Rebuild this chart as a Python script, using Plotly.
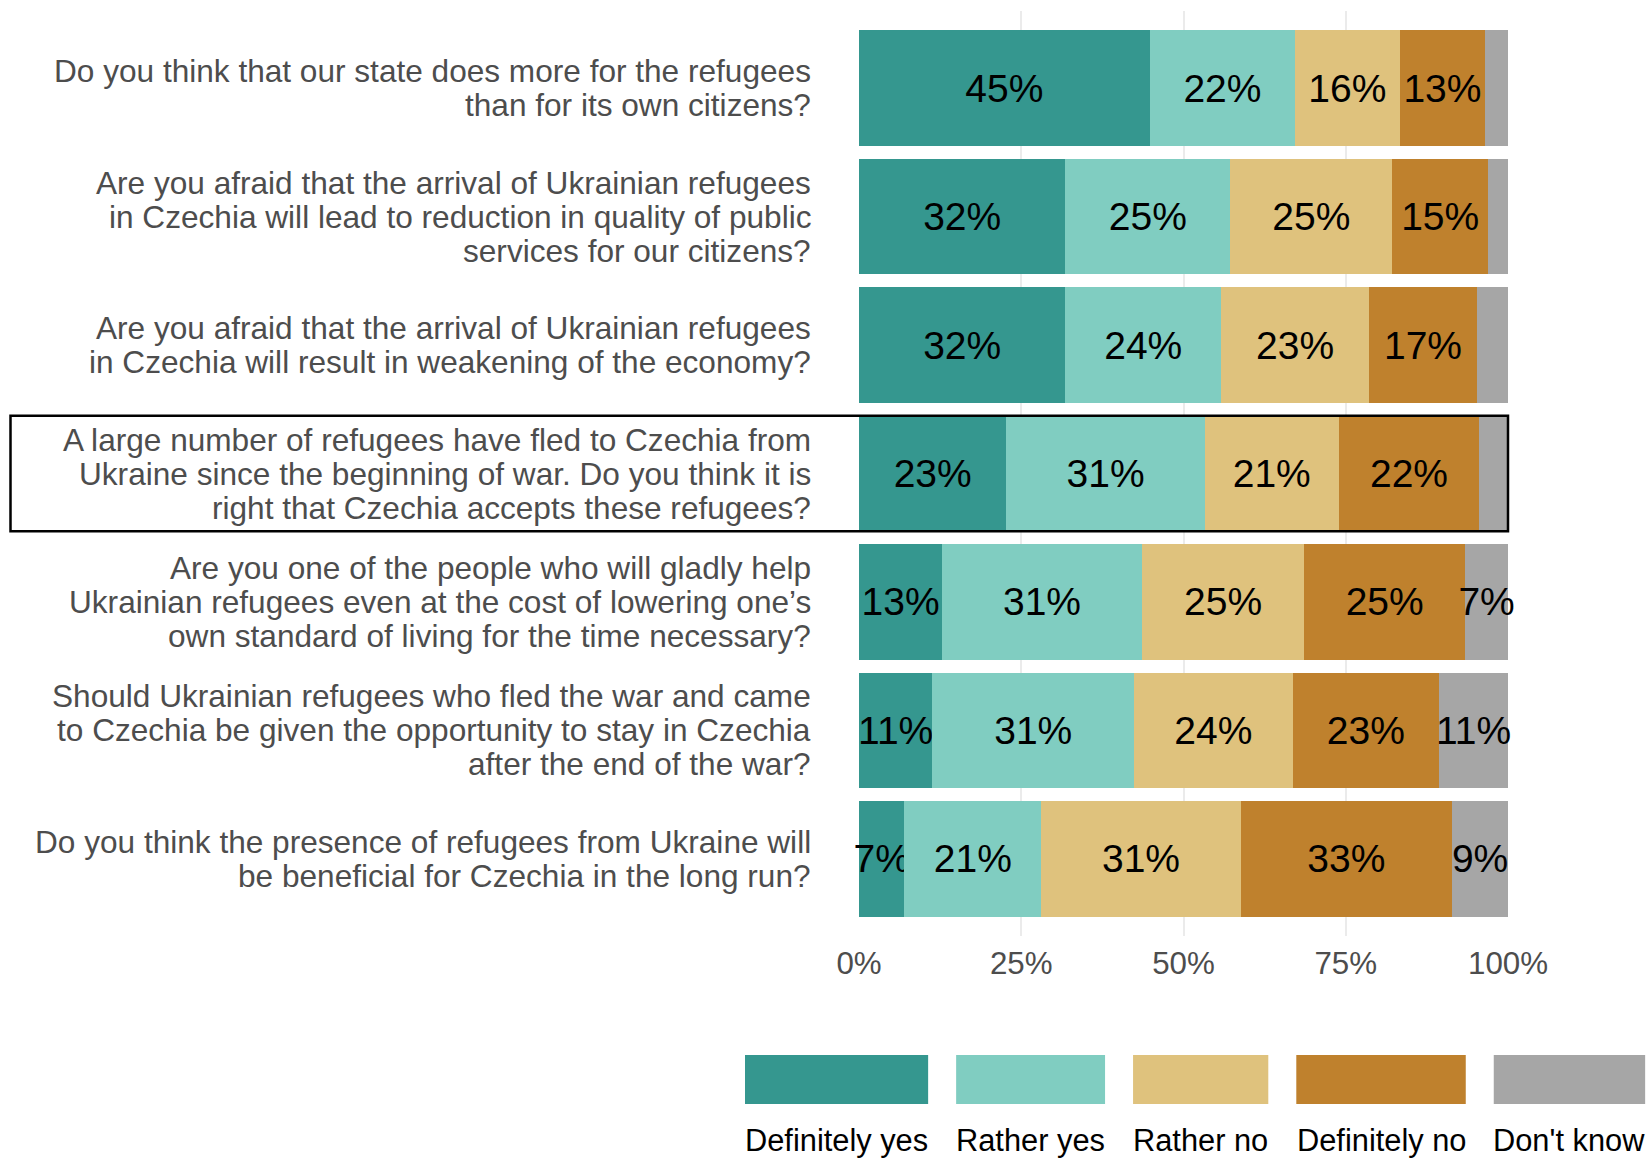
import plotly.graph_objects as go

# ---------------- data ----------------
question_lines = [
    ["Do you think that our state does more for the refugees", "than for its own citizens?"],
    ["Are you afraid that the arrival of Ukrainian refugees", "in Czechia will lead to reduction in quality of public", "services for our citizens?"],
    ["Are you afraid that the arrival of Ukrainian refugees", "in Czechia will result in weakening of the economy?"],
    ["A large number of refugees have fled to Czechia from", "Ukraine since the beginning of war. Do you think it is", "right that Czechia accepts these refugees?"],
    ["Are you one of the people who will gladly help", "Ukrainian refugees even at the cost of lowering one\u2019s", "own standard of living for the time necessary?"],
    ["Should Ukrainian refugees who fled the war and came", "to Czechia be given the opportunity to stay in Czechia", "after the end of the war?"],
    ["Do you think the presence of refugees from Ukraine will", "be beneficial for Czechia in the long run?"],
]
questions = [" ".join(l) for l in question_lines]

answers = ["Definitely yes", "Rather yes", "Rather no", "Definitely no", "Don't know"]
colors = ["#35978F", "#80CDC1", "#DFC27D", "#BF812D", "#A6A6A6"]

definitely_yes = [44.8, 31.8, 31.8, 22.7, 12.8, 11.3, 7.0]
rather_yes     = [22.4, 25.4, 24.0, 30.6, 30.8, 31.1, 21.1]
rather_no      = [16.1, 25.0, 22.8, 20.6, 25.0, 24.4, 30.7]
definitely_no  = [13.2, 14.7, 16.6, 21.7, 24.8, 22.6, 32.6]
dont_know      = [3.5, 3.1, 4.8, 4.4, 6.6, 10.6, 8.6]
series = [definitely_yes, rather_yes, rather_no, definitely_no, dont_know]

x_ticks = [0, 25, 50, 75, 100]
x_tick_labels = ["0%", "25%", "50%", "75%", "100%"]
highlight_index = 3

# ---------------- layout constants ----------------
W, H = 1652, 1158
plot_left, plot_right = 859, 1508
plot_top, plot_bottom = 10.5, 936
pw = plot_right - plot_left
ph = plot_bottom - plot_top
FONT = "Liberation Sans, Arial, sans-serif"
y_lo, y_hi = -0.6, len(questions) - 1 + 0.6


def px_x(p):
    return (p - plot_left) / pw


def px_y(p):
    return (plot_bottom - p) / ph


def cat_to_paper(i):
    return 1 - (i - y_lo) / (y_hi - y_lo)


fig = go.Figure()
for name, vals, col in zip(answers, series, colors):
    fig.add_trace(go.Bar(
        y=questions, x=vals, name=name, orientation="h",
        marker=dict(color=col, line=dict(width=0)),
        width=0.9,
        text=[f"{v:.0f}%" if v >= 5 else "" for v in vals],
        textposition="inside", insidetextanchor="middle",
        textangle=0, constraintext="none", cliponaxis=False,
        insidetextfont=dict(family=FONT, size=39, color="black"),
        hoverinfo="skip", showlegend=False,
    ))

annotations = []
line_gap = 34
for q, lines in zip(questions, question_lines):
    n = len(lines)
    for j, ln in enumerate(lines):
        annotations.append(dict(
            x=px_x(813), xref="paper", y=q, yref="y",
            xanchor="right", yanchor="middle",
            yshift=-(j - (n - 1) / 2) * line_gap,
            text=ln, showarrow=False,
            font=dict(family=FONT, size=31.6, color="#4D4D4D"),
        ))

shapes = [dict(
    type="rect", xref="paper", yref="paper",
    x0=px_x(10.5), x1=1,
    y0=cat_to_paper(highlight_index + 0.45), y1=cat_to_paper(highlight_index - 0.45),
    line=dict(color="black", width=2.5), fillcolor="rgba(0,0,0,0)", layer="above",
)]

# manual legend: keys as wide as their labels
char_w = {"D": .722, "e": .556, "f": .278, "i": .222, "n": .556, "t": .278, "l": .222,
          "y": .5, " ": .278, "s": .5, "R": .722, "a": .556, "h": .556, "r": .333,
          "o": .556, "'": .191, "k": .5, "w": .722}
legend_font = 30.8
gap = 28
x_cur = 745
for name, col in zip(answers, colors):
    w = sum(char_w.get(c, .556) for c in name) * legend_font
    shapes.append(dict(
        type="rect", xref="paper", yref="paper",
        x0=px_x(x_cur), x1=px_x(x_cur + w), y0=px_y(1104), y1=px_y(1055),
        fillcolor=col, line=dict(width=0),
    ))
    annotations.append(dict(
        x=px_x(x_cur + w / 2), xref="paper", y=px_y(1141), yref="paper",
        xanchor="center", yanchor="middle", text=name, showarrow=False,
        font=dict(family=FONT, size=legend_font, color="black"),
    ))
    x_cur += w + gap

fig.update_layout(
    width=W, height=H, barmode="stack", bargap=0.1,
    paper_bgcolor="white", plot_bgcolor="white",
    margin=dict(l=plot_left, r=W - plot_right, t=plot_top, b=H - plot_bottom, pad=0),
    xaxis=dict(range=[0, 100], tickmode="array", tickvals=x_ticks, ticktext=x_tick_labels,
               showgrid=True, gridcolor="#EBEBEB", gridwidth=2, zeroline=False,
               showline=False, ticks="", ticklabelstandoff=6,
               tickfont=dict(family=FONT, size=31.3, color="#4D4D4D")),
    yaxis=dict(range=[y_hi, y_lo], showticklabels=False, showgrid=False,
               zeroline=False, showline=False, ticks=""),
    annotations=annotations, shapes=shapes, showlegend=False,
    font=dict(family=FONT),
)

fig.write_html(
    "out.html",
    config={"displayModeBar": False},
    post_script="document.body.style.margin='0';document.body.style.overflow='hidden';",
)
